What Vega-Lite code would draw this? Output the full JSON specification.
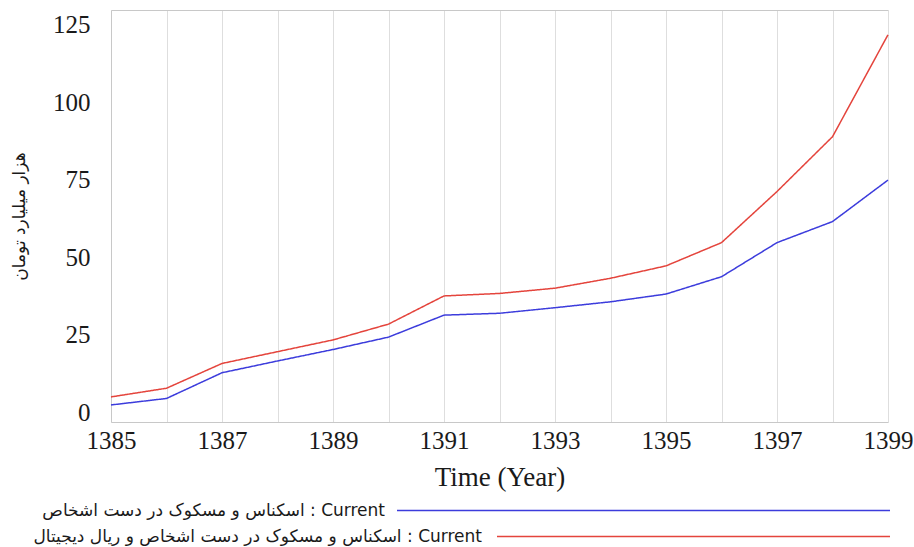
{
  "$schema": "https://vega.github.io/schema/vega-lite/v6.json",
  "width": 777,
  "height": 412,
  "autosize": {"type": "none"},
  "padding": {"left": 111, "top": 10, "right": 26, "bottom": 125},
  "background": "white",
  "config": {"view": {"stroke": null}, "font": "Liberation Serif"},
  "data": {
    "values": [
      {"year": 1385, "series": "A", "value": 2.3},
      {"year": 1386, "series": "A", "value": 4.4},
      {"year": 1387, "series": "A", "value": 12.7},
      {"year": 1388, "series": "A", "value": 16.5},
      {"year": 1389, "series": "A", "value": 20.2},
      {"year": 1390, "series": "A", "value": 24.2},
      {"year": 1391, "series": "A", "value": 31.3},
      {"year": 1392, "series": "A", "value": 31.9},
      {"year": 1393, "series": "A", "value": 33.7},
      {"year": 1394, "series": "A", "value": 35.6},
      {"year": 1395, "series": "A", "value": 38.1},
      {"year": 1396, "series": "A", "value": 43.7},
      {"year": 1397, "series": "A", "value": 54.7},
      {"year": 1398, "series": "A", "value": 61.5},
      {"year": 1399, "series": "A", "value": 74.9},
      {"year": 1385, "series": "B", "value": 4.9},
      {"year": 1386, "series": "B", "value": 7.7},
      {"year": 1387, "series": "B", "value": 15.7},
      {"year": 1388, "series": "B", "value": 19.5},
      {"year": 1389, "series": "B", "value": 23.3},
      {"year": 1390, "series": "B", "value": 28.4},
      {"year": 1391, "series": "B", "value": 37.5},
      {"year": 1392, "series": "B", "value": 38.3},
      {"year": 1393, "series": "B", "value": 40.0},
      {"year": 1394, "series": "B", "value": 43.2},
      {"year": 1395, "series": "B", "value": 47.2},
      {"year": 1396, "series": "B", "value": 54.7},
      {"year": 1397, "series": "B", "value": 71.2},
      {"year": 1398, "series": "B", "value": 88.9},
      {"year": 1399, "series": "B", "value": 121.8}
    ]
  },
  "transform": [
    {"lookup": "series", "from": {"data": {"values": [
      {"series": "A", "label": "اسکناس و مسکوک در دست اشخاص : Current"},
      {"series": "B", "label": "اسکناس و مسکوک در دست اشخاص و ریال دیجیتال : Current"}
    ]}, "key": "series", "fields": ["label"]}}
  ],
  "layer": [
    {
      "mark": {"type": "line", "strokeWidth": 1.5},
      "encoding": {
        "x": {
          "field": "year", "type": "quantitative",
          "scale": {"domain": [1385, 1399], "nice": false, "zero": false},
          "axis": {
            "orient": "bottom",
            "values": [1385, 1386, 1387, 1388, 1389, 1390, 1391, 1392, 1393, 1394, 1395, 1396, 1397, 1398, 1399],
            "labelExpr": "datum.value % 2 == 1 ? format(datum.value, 'd') : ''",
            "labelFlush": false, "labelOverlap": false,
            "grid": true, "gridColor": "#dedede", "gridWidth": 1,
            "ticks": false, "domainColor": "#c8c8c8",
            "labelFontSize": 25, "labelColor": "#1a1a1a", "labelPadding": 6,
            "labelFont": "Liberation Serif",
            "title": "Time (Year)", "titleFont": "Liberation Serif", "titleFontSize": 27,
            "titleFontWeight": "normal", "titleColor": "#1a1a1a", "titlePadding": 11
          }
        },
        "y": {
          "field": "value", "type": "quantitative",
          "scale": {"domain": [-3.2, 129.8], "nice": false, "zero": false},
          "axis": {
            "orient": "left",
            "values": [0, 25, 50, 75, 100, 125],
            "grid": false, "ticks": false, "domainColor": "#c8c8c8",
            "labelFontSize": 25, "labelColor": "#1a1a1a", "labelPadding": 21,
            "labelFont": "Liberation Serif",
            "title": "هزار میلیارد تومان", "titleFont": "DejaVu Sans", "titleFontSize": 17,
            "titleFontWeight": "normal", "titleColor": "#1a1a1a", "titlePadding": 24
          }
        },
        "color": {
          "field": "label", "type": "nominal",
          "scale": {
            "domain": ["اسکناس و مسکوک در دست اشخاص : Current", "اسکناس و مسکوک در دست اشخاص و ریال دیجیتال : Current"],
            "range": ["#3c3cdc", "#e4443c"]
          },
          "legend": {
            "values": ["اسکناس و مسکوک در دست اشخاص : Current"],
            "orient": "none", "legendX": 285, "legendY": 253,
            "direction": "vertical", "title": null, "padding": 0,
            "symbolType": "stroke", "symbolSize": 243049, "symbolStrokeWidth": 1.5,
            "labelAlign": "right", "labelOffset": -506, "labelLimit": 0,
            "labelFont": "DejaVu Sans", "labelFontSize": 17, "labelColor": "#1a1a1a"
          }
        },
        "strokeDash": {
          "field": "series", "type": "nominal",
          "scale": {"domain": ["A", "B"], "range": [[1, 0], [1, 0]]},
          "legend": {
            "values": ["B"],
            "labelExpr": "'اسکناس و مسکوک در دست اشخاص و ریال دیجیتال : Current'",
            "orient": "none", "legendX": 385, "legendY": 329,
            "direction": "vertical", "title": null, "padding": 0,
            "symbolType": "stroke", "symbolSize": 154449, "symbolStrokeWidth": 1.5,
            "symbolStrokeColor": "#e4443c",
            "labelAlign": "right", "labelOffset": -409, "labelLimit": 0,
            "labelFont": "DejaVu Sans", "labelFontSize": 17, "labelColor": "#1a1a1a"
          }
        }
      }
    },
    {
      "mark": {"type": "rule", "opacity": 0},
      "encoding": {
        "x": {
          "field": "year", "type": "quantitative",
          "axis": {"orient": "top", "labels": false, "ticks": false, "grid": false, "title": null, "domainColor": "#c8c8c8"}
        }
      }
    }
  ]
}
